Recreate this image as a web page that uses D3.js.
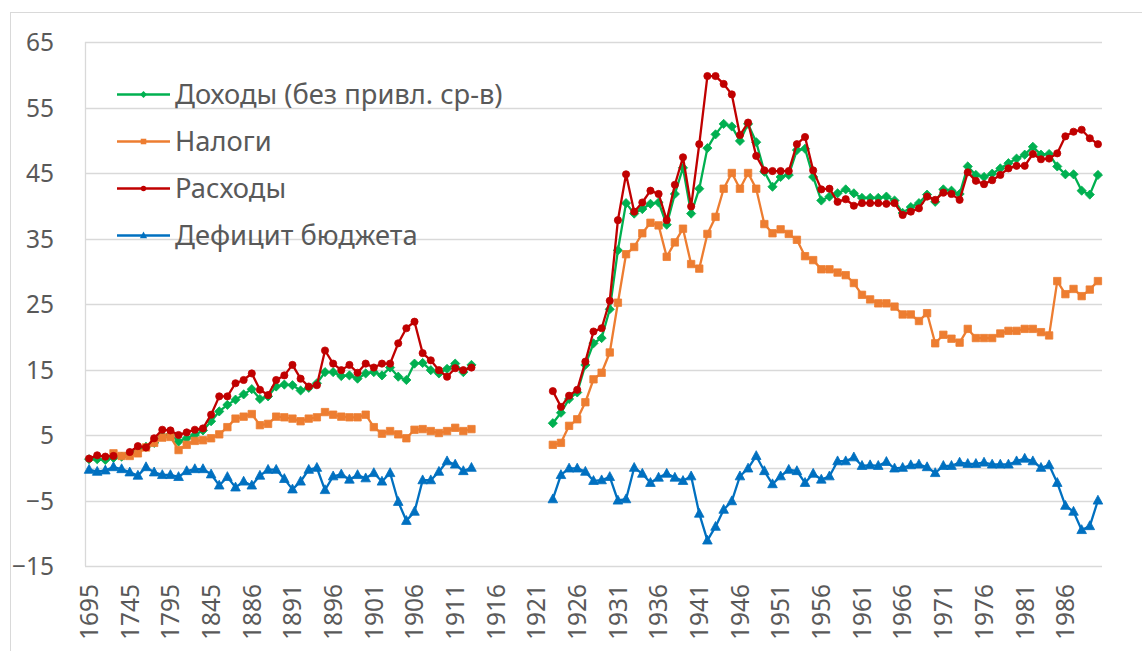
<!DOCTYPE html>
<html>
<head>
<meta charset="utf-8">
<script src="https://cdn.jsdelivr.net/npm/d3@7"></script>
<style>
    body { margin: 0; background: #fff; }
    svg text { font-family: "Noto Sans", sans-serif; fill: #595959; }
</style>
</head>
<body>
<svg id="chart" width="1142" height="651"></svg>
<script>
// categories: 10-year steps until 1885, then yearly
var years = [1695, 1705, 1715, 1725, 1735, 1745, 1755, 1765, 1775, 1785,
    1795, 1805, 1815, 1825, 1835, 1845, 1855, 1865, 1875, 1885,
    1886, 1887, 1888, 1889, 1890, 1891, 1892, 1893, 1894, 1895,
    1896, 1897, 1898, 1899, 1900, 1901, 1902, 1903, 1904, 1905,
    1906, 1907, 1908, 1909, 1910, 1911, 1912, 1913, 1914, 1915,
    1916, 1917, 1918, 1919, 1920, 1921, 1922, 1923, 1924, 1925,
    1926, 1927, 1928, 1929, 1930, 1931, 1932, 1933, 1934, 1935,
    1936, 1937, 1938, 1939, 1940, 1941, 1942, 1943, 1944, 1945,
    1946, 1947, 1948, 1949, 1950, 1951, 1952, 1953, 1954, 1955,
    1956, 1957, 1958, 1959, 1960, 1961, 1962, 1963, 1964, 1965,
    1966, 1967, 1968, 1969, 1970, 1971, 1972, 1973, 1974, 1975,
    1976, 1977, 1978, 1979, 1980, 1981, 1982, 1983, 1984, 1985,
    1986, 1987, 1988, 1989, 1990];

var yTicks = [-15, -5, 5, 15, 25, 35, 45, 55, 65];

// Доходы (без привл. ср-в)
var revenue = [1.3, 1.3, 1.2, 1.5, 1.7, 2.2, 2.8, 3.2, 3.8, 4.9,
    5.1, 4.0, 4.5, 5.0, 5.7, 7.1, 8.6, 9.6, 10.4, 11.2,
    12.0, 10.5, 10.9, 12.4, 12.7, 12.6, 11.8, 12.2, 12.9, 14.6,
    14.6, 14.0, 14.1, 13.6, 14.4, 14.6, 14.1, 15.3, 13.9, 13.4,
    15.9, 16.0, 14.9, 14.4, 15.1, 15.9, 14.6, 15.7,
    null, null, null, null, null, null, null, null, null,
    6.8, 8.4, 10.5, 11.5, 15.7, 19.0, 19.8, 24.2, 33.2, 40.4,
    38.8, 39.5, 40.3, 40.5, 37.1, 41.8, 45.8, 38.8, 42.6, 48.8,
    50.9, 52.5, 52.1, 49.9, 52.5, 49.7, 45.2, 42.9, 44.4, 44.7,
    48.5, 48.7, 44.4, 40.8, 41.4, 41.9, 42.5, 41.9, 41.2, 41.2,
    41.2, 41.4, 40.8, 38.9, 39.8, 40.4, 41.7, 40.6, 42.5, 42.3,
    41.8, 46.0, 44.7, 44.4, 44.9, 45.7, 46.5, 47.2, 47.8, 49.0,
    47.8, 47.9, 46.0, 44.8, 44.8, 42.3, 41.7, 44.7];

// Налоги
var taxes = [null, null, null, 2.2, 1.8, 1.8, 2.2, 3.1, 3.8, 4.6,
    4.7, 2.7, 3.5, 4.1, 4.2, 4.5, 5.1, 6.2, 7.5, 7.8,
    8.2, 6.5, 6.7, 7.8, 7.7, 7.5, 7.1, 7.5, 7.7, 8.5,
    8.1, 7.8, 7.7, 7.7, 8.1, 6.2, 5.2, 5.6, 5.1, 4.5,
    5.8, 5.9, 5.6, 5.3, 5.6, 6.1, 5.6, 5.9,
    null, null, null, null, null, null, null, null, null,
    3.5, 3.8, 6.4, 7.4, 10.0, 13.5, 14.5, 17.6, 25.2, 32.6,
    33.7, 35.8, 37.4, 37.0, 32.2, 34.4, 36.5, 31.1, 30.4, 35.7,
    38.3, 42.6, 45.0, 42.6, 45.0, 42.6, 37.2, 35.8, 36.4, 35.7,
    34.8, 32.3, 31.7, 30.3, 30.3, 29.8, 29.4, 28.2, 26.4, 25.7,
    25.1, 25.1, 24.6, 23.4, 23.4, 22.4, 23.6, 19.0, 20.3, 19.7,
    19.1, 21.2, 19.8, 19.8, 19.8, 20.5, 20.9, 20.9, 21.2, 21.2,
    20.7, 20.2, 28.5, 26.5, 27.3, 26.2, 27.2, 28.5];

// Расходы
var spending = [1.4, 1.9, 1.7, 1.8, null, 2.4, 3.3, 3.1, 4.5, 5.8,
    5.7, 5.0, 5.4, 5.8, 6.0, 8.1, 10.9, 10.9, 12.9, 13.4,
    14.4, 11.9, 11.1, 13.4, 14.1, 15.7, 13.6, 12.4, 12.6, 17.9,
    15.9, 14.9, 15.7, 14.5, 15.9, 15.3, 15.9, 15.9, 19.0, 21.3,
    22.3, 17.5, 16.4, 14.9, 13.9, 15.2, 14.9, 15.3,
    null, null, null, null, null, null, null, null, null,
    11.7, 9.3, 11.0, 11.9, 16.2, 20.8, 21.3, 25.5, 37.8, 44.8,
    39.1, 40.5, 42.3, 41.8, 37.8, 43.2, 47.4, 39.9, 49.4, 59.8,
    59.8, 58.6, 57.0, 50.8, 52.7, 47.6, 45.4, 45.3, 45.3, 45.3,
    49.4, 50.5, 45.4, 42.5, 42.6, 40.6, 41.0, 40.0, 40.4, 40.4,
    40.4, 40.3, 40.4, 38.6, 39.1, 39.6, 41.4, 40.9, 42.0, 41.8,
    40.9, 45.1, 43.8, 43.3, 43.9, 44.7, 45.7, 46.1, 46.1, 47.9,
    47.1, 47.2, 48.0, 50.6, 51.3, 51.6, 50.3, 49.4];

// Дефицит бюджета
var deficit = [-0.3, -0.6, -0.4, 0.1, -0.2, -0.7, -1.2, 0.1, -0.7, -1.1,
    -1.1, -1.4, -0.5, -0.2, -0.2, -1.0, -2.7, -1.4, -3.0, -2.1,
    -2.7, -1.2, -0.3, -0.3, -1.7, -3.3, -2.1, -0.3, 0.0, -3.4,
    -1.3, -1.0, -1.8, -1.1, -1.6, -0.8, -2.1, -0.8, -5.2, -8.1,
    -6.7, -1.9, -1.9, -0.6, 1.0, 0.5, -0.5, 0.0,
    null, null, null, null, null, null, null, null, null,
    -4.8, -1.1, -0.1, -0.1, -0.6, -2.0, -1.9, -1.4, -5.0, -4.8,
    0.0, -0.9, -2.3, -1.5, -0.9, -1.5, -2.0, -1.3, -7.0, -11.1,
    -9.0, -6.4, -5.1, -1.3, -0.1, 1.8, -0.5, -2.5, -1.3, -0.3,
    -0.5, -2.3, -0.9, -1.8, -1.3, 1.0, 1.0, 1.6, 0.3, 0.4,
    0.3, 0.9, -0.1, 0.0, 0.4, 0.5, 0.1, -0.8, 0.3, 0.3,
    0.8, 0.6, 0.6, 0.8, 0.5, 0.5, 0.5, 1.0, 1.4, 1.0,
    0.0, 0.4, -2.3, -5.8, -6.7, -9.5, -8.9, -5.0];

var seriesNames = ['Доходы (без привл. ср-в)', 'Налоги', 'Расходы', 'Дефицит бюджета'];
var seriesColors = ['#00B050', '#ED7D31', '#C00000', '#0070C0'];

var series = [
    {name: seriesNames[0], color: seriesColors[0], values: revenue, marker: 'diamond'},
    {name: seriesNames[1], color: seriesColors[1], values: taxes, marker: 'square'},
    {name: seriesNames[2], color: seriesColors[2], values: spending, marker: 'circle'},
    {name: seriesNames[3], color: seriesColors[3], values: deficit, marker: 'triangle'}
];

var plot = {left: 85, right: 1102, top: 42, bottom: 566};

var svg = d3.select('#chart');

// chart area border (only top/left edges fall inside the picture)
svg.append('rect')
        .attr('x', 10.5)
        .attr('y', 12.5)
        .attr('width', 1200)
        .attr('height', 700)
        .attr('fill', 'none')
        .attr('stroke', '#D9D9D9');

var x = d3.scaleBand()
        .domain(years)
        .range([plot.left, plot.right])
        .padding(0);

var y = d3.scaleLinear()
        .domain([-15, 65])
        .range([plot.bottom, plot.top]);

function cx(i) {
    return x(years[i]) + x.bandwidth() / 2;
}

// horizontal gridlines + axis line at zero
var grid = svg.append('g').attr('class', 'grid');
grid.selectAll('line.h')
        .data(yTicks.concat([0]))
        .enter().append('line')
        .attr('x1', plot.left)
        .attr('x2', plot.right)
        .attr('y1', function (d) { return Math.round(y(d)) + 0.5; })
        .attr('y2', function (d) { return Math.round(y(d)) + 0.5; })
        .attr('stroke', '#D9D9D9')
        .attr('stroke-width', 1.3);

grid.append('line')
        .attr('x1', plot.left + 0.5)
        .attr('x2', plot.left + 0.5)
        .attr('y1', plot.top)
        .attr('y2', plot.bottom)
        .attr('stroke', '#D9D9D9')
        .attr('stroke-width', 1.3);

// y axis labels
var yAxis = d3.axisLeft(y).tickValues(yTicks).tickSize(0).tickPadding(0);
var yg = svg.append('g')
        .attr('transform', 'translate(54,0)')
        .call(yAxis);
yg.select('.domain').remove();
yg.selectAll('text')
        .attr('font-size', 24.5)
        .attr('dy', '0.36em')
        .attr('font-family', '"Noto Sans", sans-serif');

// x axis labels, every 5th category, rotated
var xLabels = years.filter(function (d, i) { return i % 5 === 0; });
var xAxis = d3.axisBottom(x).tickValues(xLabels).tickSize(0).tickPadding(0);
var xg = svg.append('g')
        .attr('transform', 'translate(0,584)')
        .call(xAxis);
xg.select('.domain').remove();
xg.selectAll('text')
        .attr('font-size', 24.5)
        .attr('font-family', '"Noto Sans", sans-serif')
        .attr('text-anchor', 'end')
        .attr('transform', 'rotate(-90)')
        .attr('x', 0)
        .attr('y', 0)
        .attr('dy', '0.36em');

// marker shapes
function markerPath(type, s) {
    if (type === 'diamond') {
        return 'M0,' + (-s) + 'L' + s + ',0L0,' + s + 'L' + (-s) + ',0Z';
    }
    if (type === 'square') {
        return 'M' + (-s) + ',' + (-s) + 'H' + s + 'V' + s + 'H' + (-s) + 'Z';
    }
    if (type === 'triangle') {
        return 'M0,' + (-s * 1.1) + 'L' + s + ',' + (s * 0.75) + 'L' + (-s) + ',' + (s * 0.75) + 'Z';
    }
    return d3.symbol(d3.symbolCircle, Math.PI * s * s)();
}
var markerSize = {diamond: 4.6, square: 3.7, circle: 3.6, triangle: 4.8};

var line = d3.line()
        .defined(function (d) { return d !== null; })
        .x(function (d, i) { return cx(i); })
        .y(function (d) { return y(d); });

series.forEach(function (s) {
    var g = svg.append('g').attr('class', 'series');
    g.append('path')
            .datum(s.values)
            .attr('d', line)
            .attr('fill', 'none')
            .attr('stroke', s.color)
            .attr('stroke-width', 2.3)
            .attr('stroke-linejoin', 'round');

    var pts = s.values.map(function (v, i) { return {v: v, i: i}; })
            .filter(function (d) { return d.v !== null; });

    g.selectAll('path.m')
            .data(pts)
            .enter().append('path')
            .attr('class', 'm')
            .attr('d', markerPath(s.marker, markerSize[s.marker]))
            .attr('transform', function (d) {
                return 'translate(' + cx(d.i) + ',' + y(d.v) + ')';
            })
            .attr('fill', s.color)
            .attr('stroke', s.color)
            .attr('stroke-width', 0.8);
});

// legend
var legendRows = [94.5, 141.5, 188.5, 235.5];
var legend = svg.append('g').attr('class', 'legend');
series.forEach(function (s, k) {
    var ly = legendRows[k];
    legend.append('line')
            .attr('x1', 117)
            .attr('x2', 170)
            .attr('y1', ly)
            .attr('y2', ly)
            .attr('stroke', s.color)
            .attr('stroke-width', 2.3);
    legend.append('path')
            .attr('d', markerPath(s.marker, markerSize[s.marker] * 0.75))
            .attr('transform', 'translate(143.5,' + ly + ')')
            .attr('fill', s.color);
    legend.append('text')
            .attr('x', 175)
            .attr('y', ly + 9.5)
            .attr('font-size', 27.3)
            .text(s.name);
});
</script>
</body>
</html>
